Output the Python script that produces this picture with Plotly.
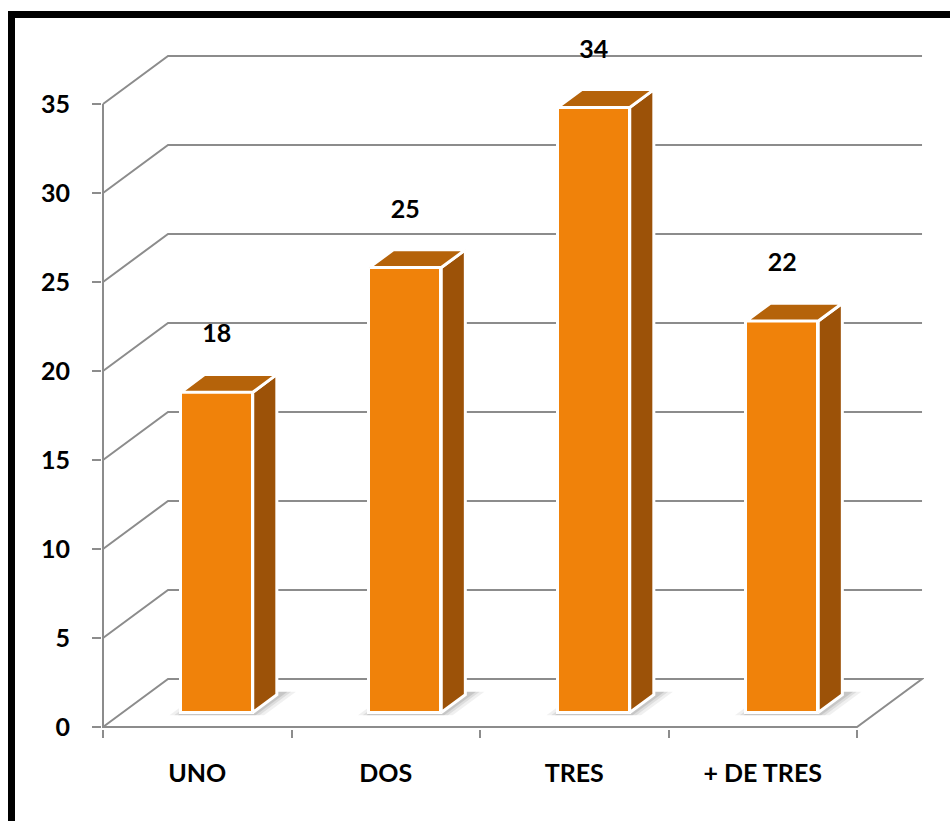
import plotly.graph_objects as go

# ---- data ----
categories = ["UNO", "DOS", "TRES", "+ DE TRES"]
values = [18, 25, 34, 22]
y_ticks = [0, 5, 10, 15, 20, 25, 30, 35]

# ---- styling / geometry ----
W, H = 950, 821
ML, MR, MT, MB = 102, 26, 40, 92
PW, PH = W - ML - MR, H - MT - MB
PX_X = 188.5   # pixels per category unit
PX_Y = 17.8    # pixels per value unit
X_AXIS_PX = 103
Y_ZERO_PX = 727
x0 = (ML - X_AXIS_PX) / PX_X
x1 = x0 + PW / PX_X
y0 = -((MT + PH) - Y_ZERO_PX) / PX_Y
y1 = y0 + PH / PX_Y

D = 0.345   # depth shift in x units
HD = 2.70   # depth shift in y units
DF = 0.30   # front of bars (depth fraction)
DB = 0.67   # back of bars
BW = 0.382  # bar width
GRID = "#8c8c8c"
FRONT = "#F0820A"
TOP = "#B5630A"
SIDE = "#9C5208"
FONT = "Lato"

n = len(categories)
ymax = y_ticks[-1]

fig = go.Figure()

# shapes: perspective gridlines / floor (below traces)
shapes = []
for v in y_ticks[1:]:
    shapes.append(dict(type="path", xref="x", yref="y", layer="below",
                       path=f"M 0,{v} L {D},{v+HD} L {n+D},{v+HD}",
                       line=dict(color=GRID, width=2)))
shapes.append(dict(type="path", xref="x", yref="y", layer="below",
                   path=f"M 0,0 L {D},{HD} L {n+D},{HD} L {n},0 Z",
                   line=dict(color=GRID, width=2)))
shapes.append(dict(type="line", xref="x", yref="y", layer="below",
                   x0=0, y0=0, x1=0, y1=ymax, line=dict(color=GRID, width=2)))

# soft shadows on the floor
centers = [i + 0.5 + DF * D for i in range(n)]
for cx in centers:
    for k, op in [(0.06, 0.06), (0.035, 0.08), (0.015, 0.10)]:
        xl = cx - BW / 2 - k
        xr = cx + BW / 2 + k
        yb = DF * HD - 0.15
        dd = DB - DF + 0.12
        shapes.append(dict(type="path", xref="x", yref="y", layer="below",
                           path=f"M {xl},{yb} L {xr},{yb} L {xr+dd*D},{yb+dd*HD} L {xl+dd*D},{yb+dd*HD} Z",
                           fillcolor=f"rgba(0,0,0,{op})", line=dict(width=0)))

# front faces
fig.add_trace(go.Bar(x=centers, y=values, base=[DF * HD] * n, width=BW,
                     marker=dict(color=FRONT, line=dict(color="white", width=3)),
                     hoverinfo="skip"))

# side and top faces
dd = DB - DF
for cx, v in zip(centers, values):
    base = DF * HD
    top = v + DF * HD
    xr = cx + BW / 2
    xl = cx - BW / 2
    fig.add_trace(go.Scatter(
        x=[xr, xr + dd * D, xr + dd * D, xr, xr],
        y=[base, base + dd * HD, top + dd * HD, top, base],
        mode="lines", fill="toself", fillcolor=SIDE,
        line=dict(color="white", width=3), hoverinfo="skip"))
    fig.add_trace(go.Scatter(
        x=[xl, xl + dd * D, xr + dd * D, xr, xl],
        y=[top, top + dd * HD, top + dd * HD, top, top],
        mode="lines", fill="toself", fillcolor=TOP,
        line=dict(color="white", width=3), hoverinfo="skip"))

# data labels
fig.add_trace(go.Scatter(
    x=centers, y=[v + DB * HD + 2.15 for v in values],
    mode="text", text=[str(v) for v in values],
    textfont=dict(family=FONT, size=25, color="black", weight="bold"),
    hoverinfo="skip", cliponaxis=False))

# border (paper coords)
def px2paper_x(px):
    return (px - ML) / PW

def px2paper_y(py):
    return (MT + PH - py) / PH

shapes.append(dict(type="rect", xref="paper", yref="paper", layer="above",
                   x0=px2paper_x(8), x1=px2paper_x(15), y0=px2paper_y(H + 5), y1=px2paper_y(11),
                   fillcolor="black", line=dict(width=0)))
shapes.append(dict(type="rect", xref="paper", yref="paper", layer="above",
                   x0=px2paper_x(8), x1=px2paper_x(W + 5), y0=px2paper_y(18), y1=px2paper_y(11),
                   fillcolor="black", line=dict(width=0)))

fig.update_layout(
    template="none",
    width=W, height=H, autosize=False,
    margin=dict(l=ML, r=MR, t=MT, b=MB, pad=0),
    paper_bgcolor="white", plot_bgcolor="white",
    showlegend=False, hovermode=False,
    shapes=shapes,
    bargap=0,
)
fig.update_xaxes(
    range=[x0, x1], automargin=False, showgrid=False, zeroline=False, showline=False,
    tickmode="array", tickvals=[i + 0.5 for i in range(n)], ticktext=categories,
    ticks="", ticklabelstandoff=27,
    tickfont=dict(family=FONT, size=25, color="black", weight="bold"),
    minor=dict(tickmode="array", tickvals=list(range(n + 1)), ticks="outside",
               ticklen=8, tickwidth=2, tickcolor=GRID, showgrid=False),
)
fig.update_yaxes(
    range=[y0, y1], automargin=False, showgrid=False, zeroline=False, showline=False,
    tickmode="array", tickvals=y_ticks, ticks="outside", ticklen=9, tickwidth=2,
    tickcolor=GRID, ticklabelstandoff=17,
    tickfont=dict(family=FONT, size=25, color="black", weight="bold"),
)

fig.write_html("out.html")
